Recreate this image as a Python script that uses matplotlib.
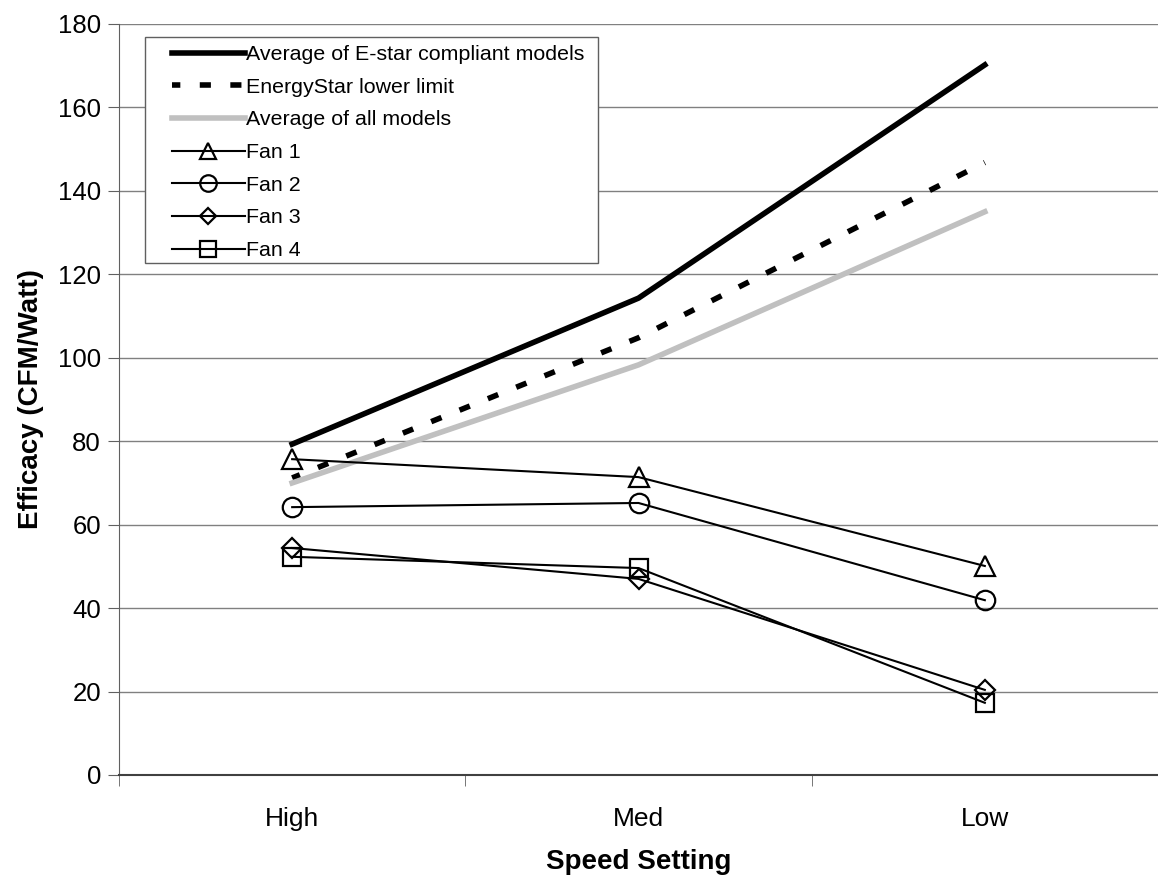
import matplotlib.pyplot as plt
from matplotlib.ticker import FixedLocator
from matplotlib.patches import Rectangle

plt.rcParams['font.family'] = ['Liberation Sans', 'DejaVu Sans']

speeds = ['High', 'Med', 'Low']
estar_avg = [79.3, 114.3, 170.2]
estar_limit = [71.2, 104.8, 146.8]
all_avg = [70.0, 98.3, 135.0]
fan1 = [75.7, 71.4, 50.1]
fan2 = [64.2, 65.2, 41.9]
fan3 = [54.4, 47.0, 20.4]
fan4 = [52.3, 49.6, 17.3]

W, H = 1158, 875
fig = plt.figure(figsize=(W / 100, H / 100), dpi=100)
ax = fig.add_axes([119 / W, 1 - 775 / H, 1 - 119 / W, (775 - 24) / H])

x = range(len(speeds))
ax.plot(x, estar_avg, color='black', lw=4, label='Average of E-star compliant models')
ax.plot(x, estar_limit, color='black', lw=4, ls=(0.5, (2, 3.5)), label='EnergyStar lower limit')
ax.plot(x, all_avg, color='#c0c0c0', lw=4, label='Average of all models')
mk = dict(color='black', lw=1.5, markersize=14, markerfacecolor='none', markeredgewidth=1.6)
ax.plot(x, fan1, marker='^', label='Fan 1', **mk)
ax.plot(x, fan2, marker='o', label='Fan 2', **mk)
ax.plot(x, fan3, marker='D', label='Fan 3', **dict(mk, markersize=10))
ax.plot(x, fan4, marker='s', label='Fan 4', **dict(mk, markersize=13))

ax.set_xlim(-0.5, 2.5)
ax.set_ylim(0, 180)
ax.set_yticks(range(0, 181, 20))
ax.yaxis.grid(True, color='#808080', lw=1)
ax.set_axisbelow(True)
ax.set_xticks(list(x))
ax.set_xticklabels(speeds)
ax.xaxis.set_minor_locator(FixedLocator([-0.5, 0.5, 1.5, 2.5]))
ax.tick_params(axis='x', which='major', length=0, pad=23, labelsize=19)
ax.tick_params(axis='x', which='minor', length=8, color='#606060')
ax.tick_params(axis='y', length=8, pad=5, labelsize=18.5, color='#606060')
for s in ['top', 'right']:
    ax.spines[s].set_visible(False)
ax.spines['left'].set_color('#606060')
ax.spines['bottom'].set_color('#404040')
ax.spines['bottom'].set_linewidth(1.5)

ax.set_xlabel('Speed Setting', fontsize=20, fontweight='bold', labelpad=13)
ax.set_ylabel('Efficacy (CFM/Watt)', fontsize=20, fontweight='bold', labelpad=10)

# legend box drawn separately so the handles can sit inset from the frame
ax.add_patch(Rectangle((145 / W, 1 - 263 / H), (598 - 145) / W, (263 - 37) / H,
                       transform=fig.transFigure, facecolor='white',
                       edgecolor='#606060', lw=1, zorder=4, clip_on=False))
leg = ax.legend(loc='upper left', bbox_to_anchor=(172 / W, 1 - 45 / H),
                bbox_transform=fig.transFigure, fontsize=15.4, frameon=False,
                handlelength=3.4, handletextpad=0.05, borderpad=0, borderaxespad=0,
                labelspacing=0.64, markerscale=0.85)
leg.set_zorder(5)

fig.savefig('out.png', dpi=100)
